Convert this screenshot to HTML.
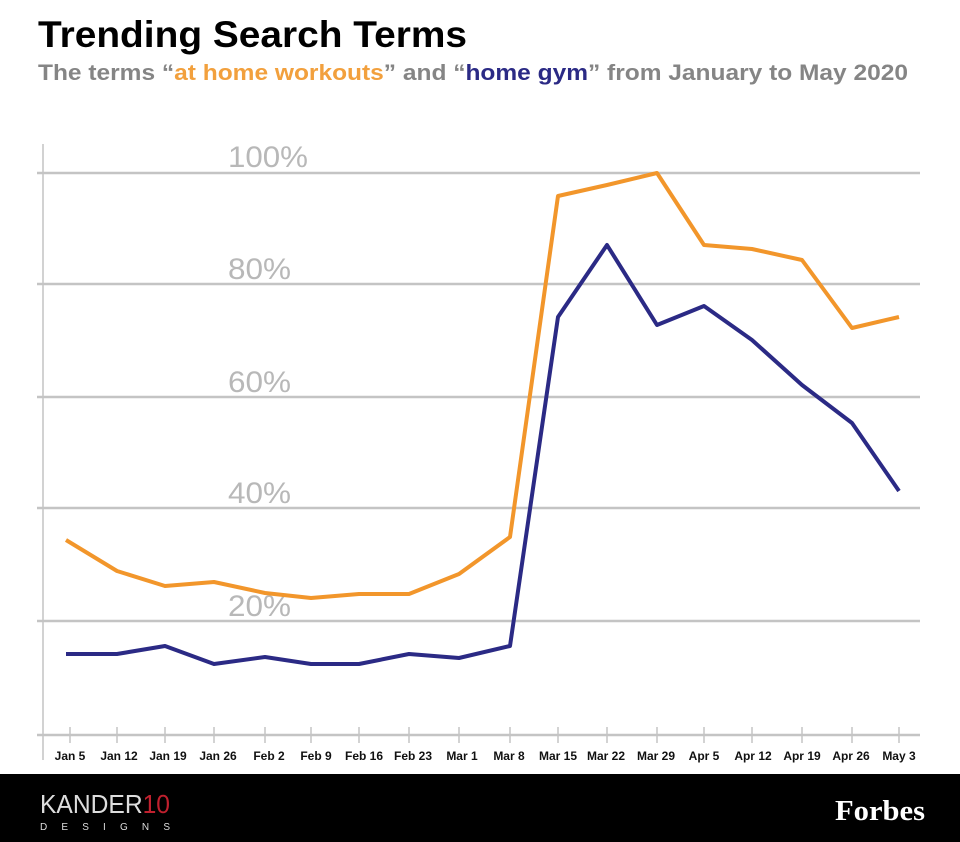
<!DOCTYPE html>
<html><head><meta charset="utf-8"><style>
html,body{margin:0;padding:0;background:#fff;}
svg{display:block;font-family:"Liberation Sans",sans-serif;}
</style></head><body>
<svg width="960" height="842" viewBox="0 0 960 842">
<text x="38" y="47" font-size="37" font-weight="bold" fill="#000" textLength="429" lengthAdjust="spacingAndGlyphs">Trending Search Terms</text>
<text x="38" y="80" font-size="22" font-weight="bold" fill="#858585" textLength="870" lengthAdjust="spacingAndGlyphs">The terms “<tspan fill="#f2a03d">at home workouts</tspan>” and “<tspan fill="#2b2a85">home gym</tspan>” from January to May 2020</text>
<g stroke="#c4c4c4" stroke-width="2.5">
<line x1="37" y1="173" x2="920" y2="173"/>
<line x1="37" y1="284" x2="920" y2="284"/>
<line x1="37" y1="397" x2="920" y2="397"/>
<line x1="37" y1="508" x2="920" y2="508"/>
<line x1="37" y1="621" x2="920" y2="621"/>
<line x1="37" y1="735" x2="920" y2="735"/>
<line x1="43" y1="144" x2="43" y2="760" stroke-width="1.5"/>
</g>
<g stroke="#c4c4c4" stroke-width="1.5">
<line x1="70" y1="727" x2="70" y2="743"/><line x1="117" y1="727" x2="117" y2="743"/><line x1="165" y1="727" x2="165" y2="743"/><line x1="214" y1="727" x2="214" y2="743"/><line x1="265" y1="727" x2="265" y2="743"/><line x1="311" y1="727" x2="311" y2="743"/><line x1="359" y1="727" x2="359" y2="743"/><line x1="409" y1="727" x2="409" y2="743"/><line x1="459" y1="727" x2="459" y2="743"/><line x1="510" y1="727" x2="510" y2="743"/><line x1="558" y1="727" x2="558" y2="743"/><line x1="607" y1="727" x2="607" y2="743"/><line x1="657" y1="727" x2="657" y2="743"/><line x1="704" y1="727" x2="704" y2="743"/><line x1="752" y1="727" x2="752" y2="743"/><line x1="802" y1="727" x2="802" y2="743"/><line x1="852" y1="727" x2="852" y2="743"/><line x1="899" y1="727" x2="899" y2="743"/>
</g>
<g font-size="30" fill="#b8b8b8" lengthAdjust="spacingAndGlyphs">
<text x="228" y="167" textLength="80" lengthAdjust="spacingAndGlyphs">100%</text>
<text x="228" y="279" textLength="63" lengthAdjust="spacingAndGlyphs">80%</text>
<text x="228" y="392" textLength="63" lengthAdjust="spacingAndGlyphs">60%</text>
<text x="228" y="503" textLength="63" lengthAdjust="spacingAndGlyphs">40%</text>
<text x="228" y="616" textLength="63" lengthAdjust="spacingAndGlyphs">20%</text>
</g>
<g font-size="12" font-weight="bold" fill="#111" text-anchor="middle">
<text x="70" y="760">Jan 5</text><text x="119" y="760">Jan 12</text><text x="168" y="760">Jan 19</text><text x="218" y="760">Jan 26</text><text x="269" y="760">Feb 2</text><text x="316" y="760">Feb 9</text><text x="364" y="760">Feb 16</text><text x="413" y="760">Feb 23</text><text x="462" y="760">Mar 1</text><text x="509" y="760">Mar 8</text><text x="558" y="760">Mar 15</text><text x="606" y="760">Mar 22</text><text x="656" y="760">Mar 29</text><text x="704" y="760">Apr 5</text><text x="753" y="760">Apr 12</text><text x="802" y="760">Apr 19</text><text x="851" y="760">Apr 26</text><text x="899" y="760">May 3</text>
</g>
<polyline fill="none" stroke="#f2962b" stroke-width="4" stroke-linejoin="round" points="66,540 117,571 165,586 214,582 265,593 311,598 359,594 409,594 459,574 510,537 558,196 607,185 657,173 704,245 752,249 802,260 852,328 899,317"/>
<polyline fill="none" stroke="#2b2a85" stroke-width="4" stroke-linejoin="round" points="66,654 117,654 165,646 214,664 265,657 311,664 359,664 409,654 459,658 510,646 558,317 607,245 657,325 704,306 752,340 802,385 852,423 899,491"/>
<rect x="0" y="774" width="960" height="68" fill="#000"/>
<text x="40" y="813" font-size="26" fill="#ddd" textLength="130" lengthAdjust="spacingAndGlyphs" style="font-weight:300">KANDER<tspan fill="#c0202e">10</tspan></text>
<text x="40" y="830" font-size="10" fill="#ddd" textLength="130" lengthAdjust="spacing">DESIGNS</text>
<text x="835" y="820" font-family="Liberation Serif,serif" font-size="28" font-weight="bold" fill="#fff" textLength="90" lengthAdjust="spacingAndGlyphs">Forbes</text>
</svg>
</body></html>
